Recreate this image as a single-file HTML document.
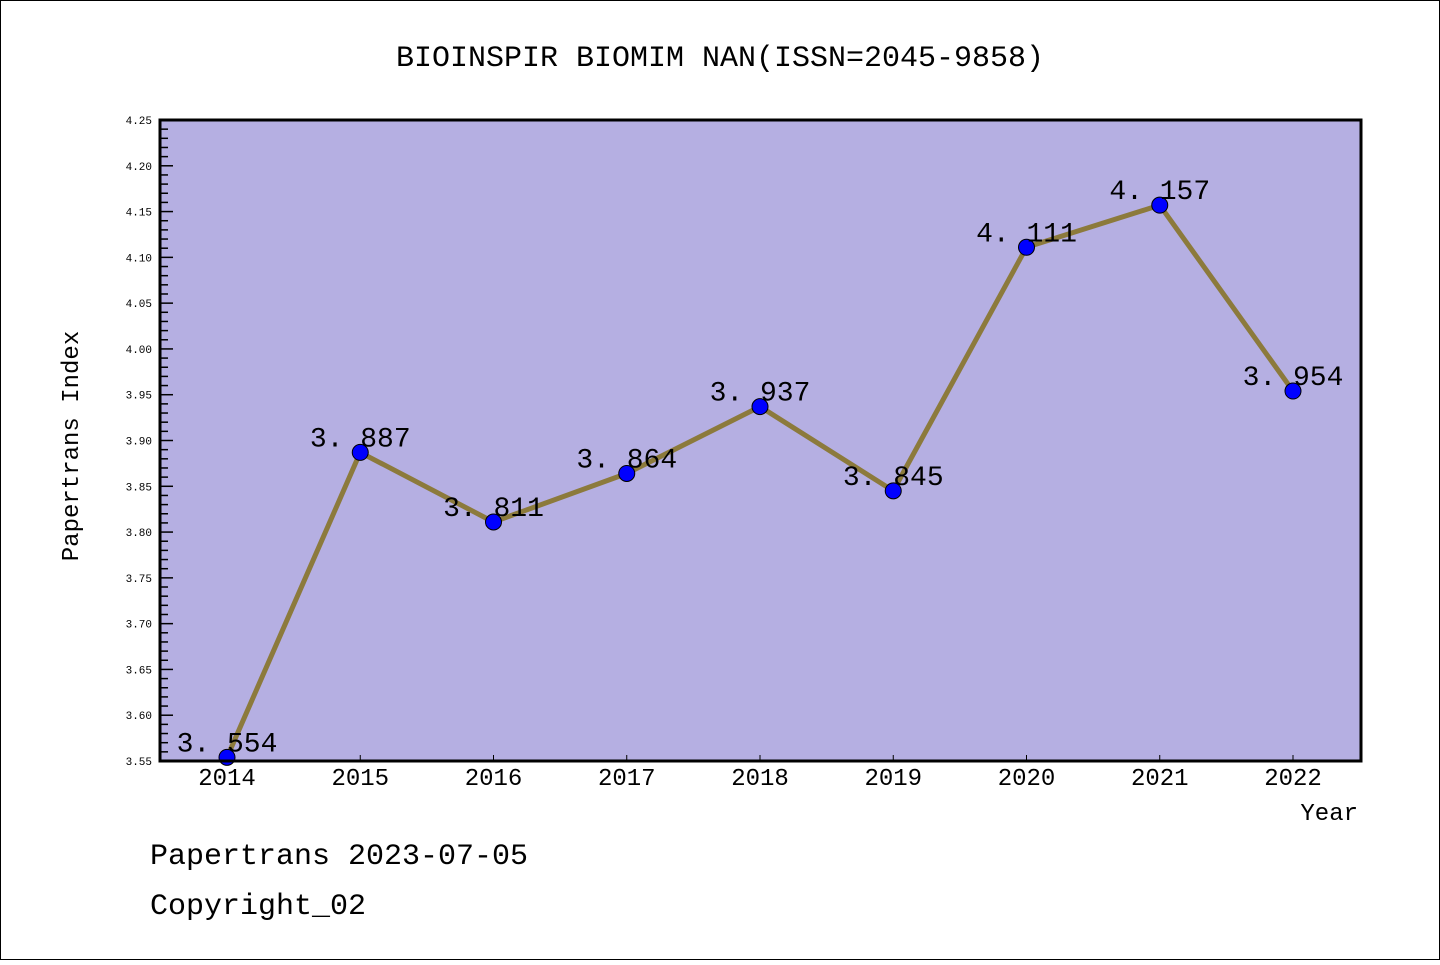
<!DOCTYPE html>
<html><head><meta charset="utf-8"><style>
body{margin:0;background:#fff}
svg text{font-family:"Liberation Mono","DejaVu Sans Mono",monospace}
</style></head><body>
<svg width="1440" height="960" xmlns="http://www.w3.org/2000/svg">
<rect x="0.5" y="0.5" width="1439" height="959" fill="#fff" stroke="#000"/>
<text x="720" y="66" text-anchor="middle" font-size="30">BIOINSPIR BIOMIM NAN(ISSN=2045-9858)</text>
<rect x="160" y="120" width="1201" height="641" fill="#b5afe2"/>
<g id="axes"></g>
<g id="marks"></g>
<rect x="160" y="120" width="1201" height="641" fill="none" stroke="#000" stroke-width="3"/>
<text x="86" y="446" text-anchor="middle" font-size="24" transform="rotate(-90 86 446)" dy="-8">Papertrans Index</text>
<text x="1358" y="820" text-anchor="end" font-size="24">Year</text>
<text x="150" y="864" font-size="30">Papertrans 2023-07-05</text>
<text x="150" y="914" font-size="30">Copyright_02</text>
</svg>
<script>
const years=["2014","2015","2016","2017","2018","2019","2020","2021","2022"];
const values=[3.554,3.887,3.811,3.864,3.937,3.845,4.111,4.157,3.954];
const labels=["3.554","3.887","3.811","3.864","3.937","3.845","4.111","4.157","3.954"];
const yTicks=["3.55","3.60","3.65","3.70","3.75","3.80","3.85","3.90","3.95","4.00","4.05","4.10","4.15","4.20","4.25"];
const NS="http://www.w3.org/2000/svg";
const yMin=3.55,yMax=4.25,plotTop=120,plotBot=761;
const y=v=>plotBot-(v-yMin)/(yMax-yMin)*(plotBot-plotTop);
const x=i=>227+i*(1293-227)/(years.length-1);
function mk(t,a,p){const e=document.createElementNS(NS,t);for(const k in a)e.setAttribute(k,a[k]);p.appendChild(e);return e;}
const ax=document.getElementById('axes'),mg=document.getElementById('marks');
for(let k=0;k<=70;k++){const v=yMin+k*0.01;const maj=k%5===0;
 const l=mk('line',{x1:160,x2:maj?173:168,y1:y(v),y2:y(v),stroke:'#000','stroke-width':1.5},ax);
 
 }
yTicks.forEach(t=>{const e=mk('text',{x:152,y:y(+t)+4,'text-anchor':'end','font-size':11,'font-family':'DejaVu Sans, sans-serif'},ax);e.textContent=t;
 
 });
years.forEach((yr,i)=>{const l=mk('line',{x1:x(i),x2:x(i),y1:plotBot,y2:plotBot-6,stroke:'#000','stroke-width':1},ax);
 
 
 const e=mk('text',{x:x(i),y:785,'text-anchor':'middle','font-size':24,'font-family':'DejaVu Sans, sans-serif'},ax);e.textContent=yr;
 
 });
const pl=mk('polyline',{points:values.map((v,i)=>x(i)+','+y(v)).join(' '),fill:'none',stroke:'#8c7a3c','stroke-width':5,'stroke-linejoin':'round'},mg);


values.forEach((v,i)=>{const c=mk('circle',{cx:x(i),cy:y(v),r:8,fill:'#0000ff',stroke:'#000','stroke-width':1},mg);
 
 
 const t=mk('text',{x:x(i),y:y(v)-6,'text-anchor':'middle','font-size':28,'font-family':'DejaVu Sans, sans-serif'},mg);t.textContent=labels[i].replace('.','. ');
 
 });
</script>
</body></html>
